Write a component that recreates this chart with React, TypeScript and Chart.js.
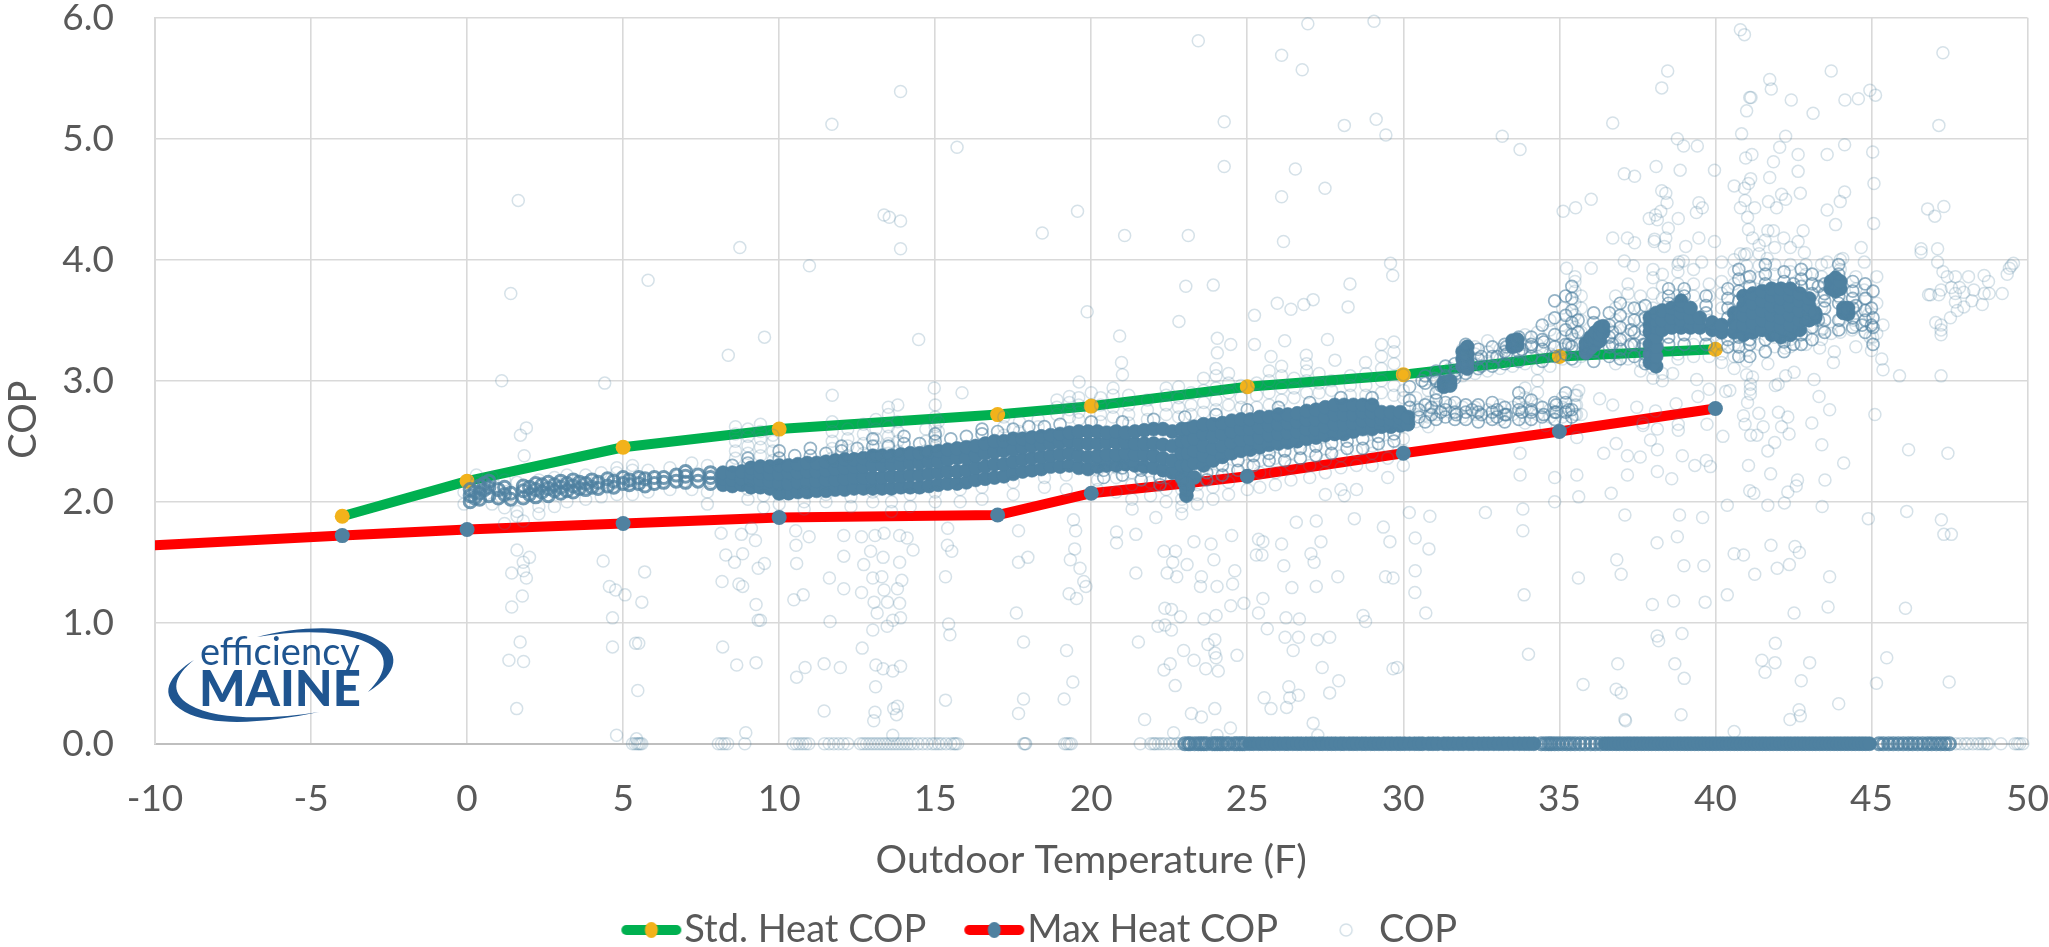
import React, { useEffect, useRef } from "react";
import { Chart, registerables } from "chart.js";

Chart.register(...registerables);

const xTicksMin = -10;
const xTicksMax = 50;
const stdTemps = [-4, 0, 5, 10, 17, 20, 25, 30, 35, 40];
const stdCop = [1.88, 2.17, 2.45, 2.6, 2.72, 2.79, 2.95, 3.05, 3.2, 3.26];
const maxTemps = [-10, -4, 0, 5, 10, 17, 20, 23, 25, 30, 35, 40];
const maxCop = [1.64, 1.72, 1.77, 1.82, 1.87, 1.89, 2.07, 2.15, 2.21, 2.4, 2.58, 2.77];

// each row: temperature, then the COP readings seen at that temperature
const outliersLeft = [
[1.64,4.49],[1.4,3.72],[5.8,3.83],[1.11,3],[4.41,2.98],[1.9,2.61],[1.71,2.55],[1.83,2.38],[1.43,1.41],[1.81,1.43],[1.9,1.37],[1.77,1.22],[1.43,1.13],[1.7,.84],[1.34,.69],[1.81,.68],[1.59,.29],[4.36,1.51],[5.69,1.42],[4.56,1.3],[4.76,1.27],[5.06,1.23],[5.6,1.17],[4.66,1.04],[4.66,.8],[5.4,.83],[5.5,.83],[5.47,.44],[4.79,.07],[5.43,.04],[1.8,1.5],[1.6,1.6],[2,1.54],[1.2,1.82],[1.8,1.84],
[8.74,4.1],[11.69,5.12],[13.89,5.39],[10.97,3.95],[15.7,4.93],[13.36,4.37],[13.53,4.35],[13.89,4.32],[13.89,4.09],[8.37,3.21],[9.53,3.36],[14.47,3.34],[11.7,2.88],[14.97,2.94],[15.86,2.9],
[8.14,1.74],[8.79,1.73],[9.11,1.78],[9.24,1.68],[8.29,1.56],[8.57,1.5],[8.83,1.57],[9.53,1.49],[9.33,1.45],[8.17,1.34],[8.71,1.32],[8.83,1.3],[9.26,1.15],[9.33,1.02],[9.4,1.02],[8.19,.8],[8.64,.65],[9.26,.67],[10.53,1.76],[10.96,1.71],[10.54,1.64],[10.56,1.49],[10.77,1.23],[10.47,1.19],[11.63,1.01],[10.56,.55],[10.83,.63],[11.44,.66],[11.96,.63],[11.44,.27],[12.07,1.72],[12.07,1.55],[11.61,1.37],[12.07,1.28],[12.64,1.71],[12.64,1.25],[12.71,1.48],[12.93,1.59],[13.07,1.72],[13.36,1.74],[13.33,1.54],[13.86,1.5],[13,1.37],[13.29,1.38],[13.93,1.35],[13.36,1.27],[13.79,1.28],[13.04,1.17],[13.47,1.17],[13.86,1.16],[13.14,1.08],[13.89,1.04],[13.64,1.02],[13,.94],[13.46,.97],[12.66,.79],[13.1,.65],[13.33,.62],[13.64,.6],[13.89,.64],[13.09,.47],[13.79,.31],[13.67,.29],[13.76,.24],[13.07,.26],[13.03,.19],[13.64,.07],[8.93,.09],[13.86,1.72],[14.1,1.7],[14.29,1.6],[15.4,1.78],[15.39,1.64],[15.53,1.59],[15.33,1.38],[15.43,.99],[15.47,.9],[15.33,.36],
[17.67,1.76],[17.67,1.5],[17.97,1.54],[17.6,1.08],[17.83,.84],[17.83,.37],[17.67,.25],[19.43,1.85],[19.5,1.76],[19.47,1.61],[19.33,1.52],[19.64,1.45],[19.76,1.34],[19.83,1.3],[19.29,1.24],[19.53,1.2],[19.21,.77],[19.41,.51],[19.13,.37]];
const outliersMiddle = [
[18.43,4.22],[19.56,4.4],[21.07,4.2],[23.11,4.2],[23.43,5.81],[24.26,5.14],[24.26,4.77],[26.1,5.69],[26.76,5.57],[26.94,5.95],[29.06,5.97],[28.11,5.11],[29.13,5.16],[29.44,5.03],[26.54,4.75],[27.49,4.59],[26.1,4.52],[26.16,4.15],[29.59,3.97],[29.66,3.87],[28.29,3.8],[28.23,3.61],[23.03,3.78],[23.91,3.79],[19.87,3.57],[22.81,3.49],[20.91,3.37],[25.96,3.64],[26.4,3.59],[26.81,3.63],[27.11,3.67],[25.23,3.54],[24.04,3.35],[24.47,3.3],[24.04,3.23],[25.23,3.3],[26.2,3.33],[27.57,3.34],[20.97,3.15],[21,3.05],[19.61,2.99],[20,2.9],[27.81,3.17],[25.76,3.2],[26.89,3.21],[28.79,3.15],
[20.81,1.75],[20.81,1.66],[21.43,1.73],[21.31,1.94],[21.43,1.41],[21.51,.84],[21.71,.2],[22.07,1.87],[22.33,1.59],[22.7,1.59],[22.61,1.5],[23.07,1.48],[22.43,1.41],[22.74,1.38],[22.36,1.12],[22.57,1.11],[22.86,1.05],[22.14,.97],[22.36,.98],[22.57,.94],[22.96,.77],[23.29,.69],[22.53,.66],[22.33,.61],[22.69,.48],[23.21,.25],[23.53,.22],[22.64,.09],[23.53,1.38],[23.5,1.3],[24.03,1.3],[24.53,1.32],[24.6,1.43],[23.93,1.52],[23.84,1.65],[23.29,1.67],[24.5,1.72],[23.61,1.03],[24,1.06],[24.47,1.14],[24.89,1.16],[23.96,.86],[23.74,.82],[23.96,.75],[24,.71],[23.67,.62],[24.07,.6],[24.67,.73],[23.96,.29],[24.46,.13],[24.03,.07],[25.36,1.08],[25.64,.95],[25.36,1.69],[25.5,1.67],[25.29,1.56],[25.47,1.56],[26.1,1.65],[26.17,1.47],[26.43,1.29],[25.5,1.2],[27.21,1.84],[27.36,1.67],[27.04,1.57],[27.14,1.5],[27.21,1.3],[27.9,1.38],[26.24,1.04],[26.67,1.03],[26.21,.88],[26.64,.88],[27.24,.86],[27.64,.88],[26.47,.77],[27.4,.63],[27.93,.52],[27.64,.42],[26.33,.47],[26.64,.4],[26.36,.38],[25.54,.38],[25.76,.29],[26.26,.3],[27.11,.17],[27.26,.07],[28.71,1.06],[28.79,1.01],[29.36,1.79],[29.57,1.67],[29.43,1.38],[29.67,1.37],[29.67,.62],[26.57,1.83],[28.11,2.05],[28.43,1.86],[29.8,.63]];
const outliersRight = [
[33.83,1.94],[33.83,1.76],[33.87,1.23],[34.01,.74],[32.63,1.91],[30.85,1.88],[30.38,1.7],[30.82,1.61],[30.38,1.43],[30.37,1.25],[30.72,1.08],[30.19,1.91],[34.85,2],[35.62,2.04],[36.66,2.07],[35.61,1.37],[36.84,1.52],[36.98,1.4],[37.1,1.89],[38.13,1.66],[37.98,1.15],[38.66,1.18],[39.67,1.17],[38.78,1.71],[38.85,1.89],[39.59,1.87],[38.99,1.47],[39.63,1.47],[38.13,.89],[38.18,.85],[38.93,.91],[36.87,.66],[35.76,.49],[36.82,.45],[36.98,.42],[38.7,.66],[39,.54],[37.1,.2],[37.12,.19],[38.9,.24],[40.38,1.97],[41.68,1.97],[42.21,1.99],[43.42,1.96],[44.9,1.86],[40.6,1.57],[40.9,1.56],[41.78,1.64],[42.55,1.63],[42.69,1.58],[41.26,1.4],[41.98,1.45],[42.37,1.48],[43.66,1.38],[40.38,1.23],[43.61,1.13],[42.52,1.08],[41.92,.83],[41.49,.69],[41.91,.67],[43.02,.67],[41.59,.59],[42.75,.52],[43.95,.33],[42.68,.28],[42.72,.23],[42.39,.2],[40.6,.1],[41.1,2.09],[41.23,2.07],[42.32,2.08],[42.59,2.13],[43.51,2.18],[46.13,1.92],[47.24,1.85],[47.32,1.73],[47.56,1.73],[46.09,1.12],[45.49,.71],[45.16,.5],[47.49,.51],
[40.8,5.9],[40.93,5.86],[47.29,5.71],[38.47,5.56],[38.28,5.42],[41.74,5.49],[41.79,5.41],[43.71,5.56],[41.1,5.34],[41.14,5.34],[42.43,5.32],[43.13,5.21],[44.15,5.32],[44.58,5.33],[44.95,5.4],[45.13,5.36],[47.16,5.11],[41,5.23],[36.71,5.13],[33.17,5.02],[33.74,4.91],[40.84,5.04],[42.25,5.02],[38.78,5],[38.98,4.94],[39.42,4.94],[42.06,4.93],[44.14,4.95],[45.04,4.89],[42.65,4.87],[43.58,4.87],[41.17,4.87],[40.97,4.84],[41.86,4.81],[38.1,4.77],[37.08,4.71],[37.41,4.69],[38.87,4.74],[39.97,4.74],[42.65,4.73],[41.74,4.68],[41.13,4.67],[41.06,4.63],[40.6,4.61],[40.93,4.59],[45.08,4.63],[38.28,4.57],[38.41,4.55],[42.12,4.54],[42.72,4.55],[44.14,4.56],[42.25,4.5],[36.02,4.5],[41.7,4.48],[44,4.48],[39.47,4.47],[38.45,4.47],[35.52,4.43],[35.12,4.4],[39.58,4.43],[40.95,4.49],[41.26,4.43],[40.8,4.43],[41.96,4.43],[43.58,4.41],[39.39,4.39],[38.25,4.4],[38.08,4.37],[37.88,4.34],[38.14,4.33],[38.81,4.34],[41.03,4.35],[45.07,4.3],[43.85,4.29],[46.8,4.42],[47.32,4.44],[47.03,4.36],[38.49,4.26],[41.06,4.25],[41.68,4.24],[41.86,4.24],[42.81,4.24],[36.71,4.18],[37.18,4.18],[37.41,4.14],[38.05,4.17],[38.41,4.18],[39.47,4.18],[39.97,4.15],[39.05,4.11],[38.04,4.15],[38.36,4.11],[44.67,4.1],[46.59,4.09],[46.59,4.06],[47.12,4.09],[41.19,4.18],[41.59,4.16],[42.19,4.18],[42.65,4.15],[40.8,4.05],[40.93,4.04],[42.85,4.06],[41.66,4.01],[43.58,3.98],[37.08,3.99],[37.37,3.95],[36.02,3.93],[35.23,3.93],[38.83,3.98],[38.97,3.99],[39.56,3.98],[40.2,3.98],[44.08,4.01],[44.77,3.98],[47.12,3.98],[47.29,3.9],[49.48,3.95],[49.55,3.97],[49.35,3.88],[49.42,3.93],
[47.43,3.86],[47.69,3.86],[47.56,3.77],[47.82,3.77],[47.23,3.75],[46.83,3.71],[46.89,3.71],[47.16,3.71],[48.11,3.86],[48.61,3.87],[48.75,3.82],[48.28,3.75],[48.61,3.72],[48.77,3.72],[49.19,3.72],[47.69,3.72],[47.96,3.73],[47.69,3.65],[48.22,3.66],[48.55,3.63],[47.96,3.61],[47.75,3.58],[47.53,3.52],[47.06,3.48],[47.23,3.46],[47.23,3.42],[47.23,3.38],[45.9,3.04],[47.23,3.04],[46.19,2.43],[47.45,2.4],
[39.8,2.93],[39.4,3.01],[40.33,2.91],[40.46,2.92],[39.44,2.87],[38.63,3.06],[41.19,3.03],[41.12,2.97],[41.12,2.93],[41.12,2.89],[41.03,2.82],[40.9,2.71],[41.39,2.73],[40.95,2.64],[41.53,2.62],[41.33,2.55],[41.13,2.55],[42.25,3.04],[42.52,3.07],[41.92,2.96],[42.01,2.97],[43.16,3.01],[43.32,2.87],[43.66,2.76],[43.09,2.65],[42.02,2.74],[42.32,2.7],[42.12,2.62],[42.36,2.56],[41.9,2.49],[41.68,2.42],[43.41,2.47],[44.11,2.32],[41.06,2.3],[41.77,2.23],[42.63,2.18],[45.11,2.72],[40.24,2.54],[41.68,3.14],[42.23,3.27],[43.34,3.27],[43.81,3.24],[43.78,3.15],[45.33,3.18],[45.37,3.09],[45,3.25],[45.04,3.36],[45.37,3.46],[45.17,3.39],[44.95,3.36],[44.44,3.5],[44.91,3.55],[45.17,3.64],[45.17,3.86],[44.77,3.75],[44.84,3.68],[44.38,3.42],[43.71,3.39],[43.44,3.43],
[36.42,2.4],[36.82,2.48],[37.18,2.38],[37.59,2.37],[38.14,2.43],[38.94,2.38],[37.92,2.51],[38.81,2.59],[38.14,2.6],[37.68,2.63],[39.73,2.64],[38.81,2.64],[36.71,2.8],[36.29,2.85],[37.48,2.78],[35.62,2.92],[35.55,2.88],[35.55,2.8],[35.55,2.72],[38.08,2.75],[38.74,2.81],[39.71,2.34],[39.34,2.3],[39.84,2.29],[33.74,2.4],[33.74,2.22],[34.85,2.2],[35.56,2.22],[37.18,2.22],[38.14,2.25],[38.6,2.19],[33.9,2.65],[34.56,2.63],[35.56,2.53],[37.68,2.65]];

const paleClouds = [
[-.1,1.98,2.08],[.3,2.16,2.22],[.8,2.2,1.98],[1.2,2.18,1.95],[1.6,2.16,1.92,1.88],[2.3,2.18,1.96,1.9],[2.8,2.2,1.96],[3.2,2.22,2],[3.8,2.22,2.02],[4.3,2.24,2.04],[4.8,2.24,2.28,2.06],[5.3,2.26,2.3,2.06],[5.8,2.26,2.08],[6.5,2.28,2.1],[7.2,2.32,2.1],[7.7,2.3,2.08,1.98],
[8.6,2.36,2.42,2.5,2.56,2.62],[9,2.4,2.46,2.54,2.6],[9.4,2.38,2.45,2.52,2.58,2.64],[9.8,2.34,2.42,2.5,2.55],[11.7,2.36,2.44,2.5,2.58,2.66],[12.2,2.38,2.46,2.52,2.6],[12.7,2.4,2.48,2.56,2.64],[13.1,2.38,2.46,2.52,2.6,2.68],[13.5,2.4,2.48,2.54,2.62,2.72,2.78],[13.8,2.42,2.5,2.58,2.66,2.8],[14.7,2.42,2.5,2.6],[15,2.46,2.54,2.62,2.7,2.8],[15.1,2.58,2.66],[17.2,2.55,2.62,2.7],[17.7,2.58,2.66],[18.3,2.62,2.68],[18.9,2.72,2.78,2.84],[19.3,2.7,2.76,2.82,2.87],[19.6,2.68,2.74,2.8,2.86],[20.3,2.66,2.72,2.8,2.86],[20.7,2.7,2.78,2.88,2.94],[21.2,2.65,2.72,2.8,2.88],[21.8,2.68,2.76,2.84],[22.4,2.72,2.8,2.88,2.94],[22.8,2.7,2.78,2.86,2.95],[23.2,2.72,2.8,2.9],[23.6,2.74,2.82,2.92,3.02],[24,2.76,2.84,2.94,3.04,3.1],[24.4,2.8,2.9,2.98,3.06],[24.8,2.78,2.86,2.96],[25.3,2.78,2.88,2.98],[25.7,2.8,2.9,3,3.08],[26.1,2.84,2.94,3.04,3.12],[26.5,2.86,2.94,3.02],[26.9,2.9,3,3.08,3.14],[27.3,2.9,2.98,3.06],[27.7,2.92,3],[28.3,2.88,2.96,3.04],[28.8,2.88,2.96,3.06],[29.3,2.9,3,3.1,3.2,3.3],[29.7,2.88,2.96,3.14,3.24,3.32],[30,2.86,2.92,3.05],
[9,2.02,2.1],[9.5,1.95,2.05],[10,1.98,2.06],[10.8,1.94,2,2.08],[11.5,2,2.06],[12.3,1.96,2.04],[13,2,2.08],[13.6,1.92,2],[14.2,1.96,2.06],[15,2,2.08],[15.8,2,2.1],[16.5,2.02,2.12],[17.5,2.06,2.16],[18.5,2.12,2.2],[19.2,2.1,2.22],[20.2,2.1,2.18,2.26],[20.8,2.08,2.2,2.28],[21.3,2.02,2.14,2.24],[21.9,2.05,2.16],[22.4,2,2.1,2.2],[22.9,1.9,1.96,2.02,2.1,2.18],[23.4,1.98,2.06,2.14],[23.9,2.02,2.12,2.22],[24.4,2.06,2.16,2.26],[25,2.1,2.2,2.3],[25.4,2.12,2.24,2.34],[25.9,2.14,2.24,2.36],[26.4,2.18,2.3,2.4],[27,2.2,2.3,2.42],[27.5,2.06,2.24,2.34,2.44],[28,2.1,2.28,2.38],[28.5,2.1,2.3,2.42],[29,2.3,2.4,2.46],[29.5,2.2,2.36,2.46],[30,2.3,2.42,2.52],
[30.4,2.66,2.72,2.78,2.86],[30.8,2.62,2.7,2.76,2.82,2.92],[31.1,2.72,2.78,2.94,3,3.06],[31.5,2.74,2.8,2.96,3.02,3.1],[31.9,2.7,2.78,3.04,3.12,3.2,3.26],[32.3,2.72,2.78,3.06,3.14,3.22,3.28],[32.7,2.7,2.76,3.08,3.16,3.24,3.33],[33.1,2.68,2.74,2.8,3.1,3.18,3.26],[33.5,2.72,2.78,3.12,3.2,3.28,3.34],[33.9,2.7,2.78,2.86,2.94,3.14,3.22,3.3,3.38],[34.3,2.72,2.8,2.9,3,3.1,3.2,3.3,3.4],[34.7,2.7,2.76,3.12,3.22,3.3,3.42,3.5],[35.1,2.7,2.78,2.86,3.18,3.26,3.36,3.46,3.6],[35.5,2.72,2.8,2.88,3.16,3.24,3.34,3.44,3.54,3.64,3.74,3.82,3.86],[35.7,2.72,3.2,3.3,3.4,3.5,3.6,3.7],
[36.8,3.14,3.22,3.3,3.4,3.5,3.6,3.7],[37.2,3.18,3.28,3.38,3.48,3.6,3.72,3.8],[37.6,3.08,3.16,3.26,3.36,3.5,3.6,3.7],[38,3.02,3.1,3.6,3.72,3.85,3.92],[38.3,3,3.06,3.68,3.78,3.88],[38.8,3.18,3.22,3.7,3.8,3.9,3.96],[39.3,3.2,3.3,3.7,3.8,3.92],[39.8,3.2,3.3,3.5,3.7,3.8],[40.2,3.15,3.22,3.3,3.6,3.72,3.82],[40.6,3.1,3.2,3.3,3.8,3.9,4],[41,3.05,3.16,3.25,3.85,3.95,4.05],[41.4,3.3,3.85,3.95,4.05,4.12],[41.9,3.28,3.36,3.88,3.96,4.1],[42.4,3.28,3.34,3.9,3.96,4.1],[42.9,3.3,3.38,3.5,3.88,3.96],[43.4,3.34,3.42,3.6,3.7,3.86,3.96],[44,3.4,3.5,3.68,3.92,4],[44.5,3.28,3.46,3.56,3.76,3.86]];

// medium-toned rings: the streaks above 30 F and the edges of the band
const ringedCloud = [
[30.5,2.7,2.76],[30.9,2.72,2.78],[31.2,2.74,2.96],[31.7,2.72,3.06],[32.2,2.76,3.14],[32.5,2.72,3.12,3.2],[33,2.7,2.76,3.2],[33.3,2.72,3.22,3.28],[33.8,2.74,3.26],[34.1,2.74,3.3],[34.5,2.72,3.32],[34.9,2.74,2.8],[35.3,2.76,3.3],[35.6,3.4,3.5],
[30.6,3.0],[31,3.02],[36.7,3.3,3.4],[37.3,3.3,3.42],[37.7,3.3],[42.5,3.8,3.3],[43.3,3.5,3.78],[44.5,3.62],[44.7,3.46],[45,3.46,3.6]];
const ringedBandEdges = [
[8.5,2.3],[9,2.32,2.36],[10,2.36,2.42],[10.5,2.38],[11,2.38,2.44],[11.5,2.4],[12,2.42,2.46],[12.5,2.44],[13,2.46,2.52],[13.5,2.46],[14,2.48,2.54],[14.5,2.48],[15,2.5,2.56],[15.5,2.52],[16,2.54],[16.5,2.56,2.6],[17,2.58],[17.5,2.6],[18,2.62],[18.5,2.62],[19,2.64],[20,2.66],[21,2.66],[22,2.68],[23,2.7],[24,2.72],[25,2.76],[26,2.78],[27,2.82],[28,2.86],[29,2.86],
[20.4,2.2,2.26],[21,2.22,2.28],[21.6,2.18,2.26],[22.2,2.14,2.2],[23.7,2.18,2.24],[24.2,2.22,2.3],[24.7,2.26,2.34],[25.2,2.3,2.38],[25.7,2.34,2.4],[26.2,2.34,2.42],[26.7,2.36,2.44],[27.2,2.38,2.46],[27.7,2.4,2.48],[28.2,2.44,2.5],[28.7,2.44,2.52],[29.2,2.48,2.54],[29.7,2.5,2.56]];
const ringedCloudRight = [
[30.2,2.78,2.84,2.95],[30.7,2.66,2.8,2.98,3.04],[31.05,2.68,2.84,2.9,3,3.08],[31.35,2.7,2.76,2.82,3.04,3.12],[31.65,2.68,2.74,2.82,3.02,3.08,3.14],[32,2.68,2.74,2.8,3.06,3.3],[32.4,2.66,2.74,2.8,3.1,3.18,3.26],[32.85,2.68,2.74,2.82,3.12,3.2,3.28],[33.25,2.66,2.72,2.78,3.14,3.24,3.3],[33.7,2.68,2.76,2.82,2.9,3.16,3.24,3.36],[34.1,2.68,2.76,2.84,3.2,3.28,3.36],[34.45,2.7,2.78,3.16,3.26,3.34,3.46],[34.85,2.68,2.74,2.82,3.2,3.28,3.38,3.52,3.66],[35.2,2.66,2.74,2.82,2.9,3.22,3.3,3.42,3.54,3.7],[35.4,2.7,2.76,3.18,3.28,3.38,3.48,3.58,3.68,3.78],[36.1,3.16,3.24,3.48,3.56],[36.6,3.2,3.28,3.36,3.46,3.56],[36.95,3.18,3.26,3.34,3.44,3.54,3.64],[37.4,3.2,3.3,3.4,3.5,3.6],[37.75,3.14,3.22,3.3,3.42,3.52,3.62],[38.5,3.3,3.36,3.64,3.7,3.76],[39,3.3,3.38,3.7,3.76],[39.7,3.3,3.38,3.56,3.62,3.7],[40.4,3.28,3.34,3.52,3.6,3.68,3.76],[40.75,3.2,3.28,3.36,3.66,3.74,3.84,3.92],[41.1,3.2,3.3,3.34,3.78,3.86],[41.6,3.24,3.34,3.8,3.88,3.96],[42.2,3.24,3.32,3.82,3.9],[42.75,3.3,3.38,3.78,3.84,3.92],[43.1,3.34,3.44,3.72,3.8,3.88],[43.5,3.4,3.5,3.6,3.66,3.72,3.8],[43.95,3.42,3.5,3.64,3.7,3.88,3.96],[44.4,3.44,3.52,3.6,3.68,3.74,3.82],[44.8,3.4,3.5,3.58,3.68,3.8],[45.05,3.3,3.44,3.52,3.74]];

// heavy rings: the tail of the band below 8 F and the textured stretches along COP 0
const heavyBandTail = [
[.1,2,2.05,2.1],[.4,2.02,2.07,2.13],[.7,2.05,2.12,2.17],[1,2.03,2.1],[1.4,2.02,2.07],[1.8,2.03,2.09,2.13],[2.2,2.04,2.1,2.15],[2.6,2.05,2.11,2.16],[3,2.07,2.12,2.17],[3.4,2.08,2.13,2.18],[3.8,2.1,2.15],[4.2,2.11,2.16],[4.7,2.12,2.17],[5.2,2.14,2.18],[5.7,2.13,2.19],[6.3,2.16,2.2],[7,2.16,2.21,2.25],[7.4,2.17,2.22],[7.8,2.15,2.2,2.24],
[.25,2.03,2.08],[.55,2.1,2.15],[1.2,2.06,2.12],[2,2.06,2.12],[2.4,2.08,2.14],[2.8,2.09,2.14],[3.2,2.09,2.15],[3.6,2.11,2.16],[4,2.12,2.18],[4.5,2.13,2.19],[5,2.15,2.2],[5.5,2.15,2.2],[6,2.15,2.2],[6.7,2.17,2.22]];
const zeroCopRinged = [23,23.11,23.17,23.31,23.43,23.52,23.61,23.7,23.88,23.96,24.04,24.13,24.2,24.33,24.41,24.58,24.66,24.76,24.84,24.91,34.42,34.55,34.66,34.74,34.85,34.97,35.1,35.24,35.36,35.5,35.66,35.82,36,36.15,36.32,45.24,45.38,45.55,45.7,45.86,46.02,46.18,46.32,46.48,46.64,46.8,46.93,47.08,47.22,47.36,47.5];

const denseBand = [
[8.2,2.14,2.19,2.24],[8.5,2.13,2.18,2.24],[8.8,2.14,2.19,2.25],[9.1,2.12,2.18,2.24,2.28],[9.4,2.12,2.18,2.24,2.29],[9.7,2.11,2.17,2.23,2.29],[10,2.07,2.15,2.23,2.3],[10.3,2.07,2.15,2.24,2.3],[10.6,2.08,2.16,2.24,2.31],[10.9,2.08,2.16,2.25,2.32],[11.2,2.09,2.17,2.25,2.32],[11.5,2.09,2.18,2.26,2.33],[11.8,2.1,2.18,2.27,2.34],[12.1,2.1,2.19,2.28,2.35],[12.4,2.11,2.2,2.29,2.35],[12.7,2.11,2.2,2.29,2.36],[13,2.11,2.2,2.3,2.38],[13.3,2.11,2.2,2.3,2.38],[13.6,2.11,2.21,2.31,2.38],[13.9,2.12,2.21,2.31,2.39],[14.2,2.12,2.22,2.32,2.4],[14.5,2.12,2.22,2.32,2.4],[14.8,2.13,2.23,2.33,2.41],[15.1,2.14,2.24,2.33,2.42],[15.4,2.15,2.25,2.35,2.43],[15.7,2.15,2.25,2.36,2.44],[16,2.16,2.26,2.36,2.45],[16.3,2.18,2.28,2.38,2.46],[16.6,2.19,2.29,2.4,2.48],[16.9,2.2,2.31,2.41,2.5],[17.2,2.21,2.31,2.42,2.5],[17.5,2.23,2.33,2.43,2.52],[17.8,2.25,2.35,2.45,2.52],[18.1,2.26,2.36,2.46,2.53],[18.4,2.27,2.37,2.47,2.54],[18.7,2.29,2.38,2.48,2.55],[19,2.29,2.39,2.49,2.56],[19.3,2.3,2.4,2.5,2.57],[19.6,2.28,2.38,2.48,2.58],[19.9,2.27,2.37,2.48,2.58],[20.2,2.29,2.38,2.48,2.58],[20.5,2.3,2.39,2.49,2.57],[20.8,2.3,2.39,2.49,2.58],[21.1,2.31,2.4,2.49,2.57],[21.4,2.3,2.39,2.48,2.58],[21.7,2.29,2.39,2.48,2.59],[22,2.28,2.38,2.48,2.6],[22.3,2.26,2.36,2.47,2.6],[22.6,2.24,2.34,2.46,2.58],[22.9,2.2,2.3,2.4,2.5,2.6],[23.1,2.12,2.2,2.3,2.4,2.5,2.6],[23.3,2.2,2.32,2.42,2.52,2.62],[23.6,2.3,2.38,2.46,2.56,2.64],[23.9,2.34,2.44,2.54,2.64],[24.2,2.37,2.46,2.56,2.65],[24.5,2.4,2.49,2.58,2.67],[24.8,2.42,2.51,2.6,2.68],[25.1,2.43,2.52,2.6,2.68],[25.4,2.45,2.53,2.61,2.7],[25.7,2.47,2.55,2.63,2.7],[26,2.48,2.56,2.64,2.72],[26.3,2.49,2.57,2.65,2.72],[26.6,2.5,2.58,2.66,2.73],[26.9,2.52,2.6,2.68,2.75],[27.2,2.53,2.6,2.68,2.76],[27.5,2.55,2.62,2.7,2.78],[27.8,2.56,2.64,2.72,2.8],[28.1,2.56,2.64,2.72,2.8],[28.4,2.58,2.65,2.72,2.8],[28.7,2.6,2.67,2.74,2.8],[29,2.6,2.67,2.74,2.8],[29.3,2.62,2.68,2.74],[29.6,2.62,2.68,2.74],[29.9,2.63,2.69,2.74],[30.15,2.64,2.7]];
const denseClusters = [
[31.3,2.95,2.99],[31.5,2.96,3],[31.9,3.12,3.18,3.24],[32.05,3.1,3.16,3.22,3.28],[33.5,3.28,3.33],[33.65,3.29,3.34],[35.85,3.23,3.27,3.31],[36,3.27,3.31,3.36],[36.15,3.3,3.35,3.4],[36.3,3.33,3.38,3.44],[36.4,3.4,3.45],[37.9,3.15,3.22,3.3,3.4,3.46,3.52],[38.1,3.12,3.2,3.28,3.36,3.44,3.5,3.56],[38.3,3.42,3.5,3.58],[38.6,3.44,3.52,3.6],[38.9,3.44,3.5,3.56,3.62,3.66],[39.2,3.44,3.52,3.6],[39.5,3.44,3.52],[39.9,3.42,3.48],[40.2,3.4,3.46],[40.6,3.4,3.48,3.56],[40.9,3.38,3.46,3.54,3.62,3.7],[41.2,3.4,3.48,3.56,3.64,3.72],[41.5,3.42,3.5,3.58,3.66,3.74],[41.8,3.38,3.46,3.54,3.62,3.7,3.76],[42.1,3.36,3.44,3.52,3.6,3.68,3.76],[42.4,3.38,3.46,3.54,3.62,3.7,3.76],[42.7,3.42,3.5,3.58,3.66,3.72],[43,3.5,3.56,3.62,3.68],[43.2,3.52,3.56],[43.7,3.76,3.82],[43.85,3.74,3.8,3.85],[44,3.76,3.82],[44.1,3.56,3.6],[44.25,3.55,3.6],[23.05,2.05,2.1,2.15]];

const zeroCopPale = [5.3,5.38,5.45,5.5,5.55,5.6,8.05,8.15,8.25,8.35,8.9,10.45,10.55,10.65,10.75,10.85,10.95,11.45,11.6,11.75,11.9,12.05,12.2,12.6,12.7,12.8,12.9,13,13.1,13.2,13.3,13.4,13.5,13.6,13.7,13.8,13.9,14,14.1,14.2,14.3,14.45,14.6,14.75,14.9,15,15.1,15.2,15.35,15.5,15.6,15.65,15.72,17.84,17.88,17.9,19.15,19.22,19.3,19.36,21.57,21.9,22,22.05,22.15,22.25,22.35,22.5,22.6,22.75,22.85,47.7,47.85,48,48.1,48.25,48.4,48.5,48.6,48.7,48.75,49.15,49.6,49.68,49.75,49.85];
const zeroCopSolid = [25.07,25.2,25.36,25.49,25.63,25.78,25.9,26.04,26.19,26.31,26.46,26.6,26.73,26.88,27.02,27.15,27.3,27.42,27.57,27.7,27.83,27.98,28.1,28.26,28.39,28.52,28.67,28.8,28.95,29.08,29.22,29.35,29.5,29.63,29.78,29.9,30.04,30.2,30.36,30.5,30.62,30.81,30.95,31.1,31.3,31.44,31.6,31.77,31.92,32.1,32.24,32.42,32.58,32.73,32.9,33.06,33.21,33.37,33.55,33.72,33.88,34.03,34.18,36.46,36.58,36.7,36.82,36.93,37.05,37.16,37.27,37.39,37.5,37.62,37.73,37.85,37.96,38.08,38.19,38.31,38.42,38.53,38.65,38.77,38.88,39,39.11,39.22,39.34,39.45,39.57,39.68,39.8,39.91,40.02,40.14,40.25,40.37,40.48,40.6,40.71,40.82,40.94,41.05,41.17,41.28,41.4,41.51,41.62,41.74,41.85,41.97,42.08,42.2,42.31,42.42,42.54,42.65,42.77,42.88,43,43.11,43.22,43.34,43.45,43.57,43.68,43.8,43.91,44.02,44.14,44.25,44.37,44.48,44.6,44.71,44.82,44.94];

const THEME = {
  green: "#00B050", orange: "#F2B21B", red: "#FF0000", blue: "#4F81A0",
  pale: "rgba(79,129,160,0.24)", mid: "rgba(79,129,160,0.6)", heavy: "rgba(79,129,160,0.8)", dense: "#4F81A0",
  grid: "#D9D9D9", text: "#595959", logo: "#1F5590", font: "Lato",
};

const toPoints = (rows: number[][]) =>
  rows.flatMap(([t, ...cops]) => cops.map((y) => ({ x: t, y })));
const pair = (xs: number[], ys: number[]) => xs.map((x, i) => ({ x, y: ys[i] }));
const onZero = (xs: number[]) => xs.map((x) => ({ x, y: 0 }));

function legendSwatch(line: string, dot: string) {
  const c = document.createElement("canvas");
  c.width = 62; c.height = 18;
  const g = c.getContext("2d")!;
  g.strokeStyle = line; g.lineWidth = 10; g.lineCap = "round";
  g.beginPath(); g.moveTo(6, 9); g.lineTo(56, 9); g.stroke();
  g.fillStyle = dot; g.beginPath(); g.ellipse(31, 9, 6.5, 8, 0, 0, Math.PI * 2); g.fill();
  return c;
}
function legendRing() {
  const c = document.createElement("canvas");
  c.width = 18; c.height = 18;
  const g = c.getContext("2d")!;
  g.strokeStyle = THEME.pale; g.lineWidth = 1.5;
  g.beginPath(); g.arc(9, 9, 6, 0, Math.PI * 2); g.stroke();
  return c;
}

const placeLegend = {
  id: "placeLegend",
  afterLayout(chart: any) {
    const l = chart.legend;
    const dx = 33.5, dy = 12;
    l.left += dx; l.right += dx; l.top += dy; l.bottom += dy;
  },
};

const logo = {
  id: "logo",
  afterDatasetsDraw(chart: any) {
    const g = chart.ctx;
    g.save();
    g.fillStyle = THEME.logo;
    g.beginPath();
    g.moveTo(257, 637);
    g.bezierCurveTo(300, 626, 350, 624, 378, 640);
    g.bezierCurveTo(400, 652, 400, 672, 368, 692);
    g.bezierCurveTo(388, 672, 390, 654, 368, 643);
    g.bezierCurveTo(340, 630, 300, 630, 257, 637);
    g.fill();
    g.beginPath();
    g.moveTo(194, 660);
    g.bezierCurveTo(170, 675, 155, 695, 185, 712);
    g.bezierCurveTo(215, 728, 270, 722, 319, 712);
    g.bezierCurveTo(270, 720, 215, 720, 190, 705);
    g.bezierCurveTo(168, 692, 175, 675, 194, 660);
    g.fill();
    g.textAlign = "left"; g.textBaseline = "alphabetic";
    g.font = `400 38px ${THEME.font}`;
    g.fillText("efficiency", 200, 665);
    g.font = `900 49px ${THEME.font}`;
    g.fillText("MAINE", 199, 706);
    g.restore();
  },
};

export default function App() {
  const ref = useRef<HTMLCanvasElement>(null);
  useEffect(() => {
    const ringStyle = { showLine: false, pointStyle: "circle", pointRadius: 6, pointBorderWidth: 1.5, pointBackgroundColor: "rgba(0,0,0,0)", clip: false };
    const chart = new Chart(ref.current!, {
      type: "scatter",
      plugins: [placeLegend, logo],
      data: {
        datasets: [
          { label: "Std. Heat COP", data: pair(stdTemps, stdCop), showLine: true, order: 5, borderColor: THEME.green, backgroundColor: THEME.green, borderWidth: 10, borderCapStyle: "round", borderJoinStyle: "round", pointRadius: 7.5, pointBorderWidth: 0, pointBackgroundColor: THEME.orange },
          { label: "Max Heat COP", data: pair(maxTemps, maxCop), showLine: true, order: 6, borderColor: THEME.red, backgroundColor: THEME.red, borderWidth: 10, borderCapStyle: "round", borderJoinStyle: "round", pointRadius: (c: any) => (c.dataIndex === 0 ? 0 : 7.5), pointBorderWidth: 0, pointBackgroundColor: THEME.blue },
          { label: "COP", data: [...toPoints(outliersLeft), ...toPoints(outliersMiddle), ...toPoints(outliersRight), ...toPoints(paleClouds), ...onZero(zeroCopPale)], order: 0, ...ringStyle, borderColor: THEME.pale, pointBorderColor: THEME.pale },
          { label: "COP ringed", data: [...toPoints(ringedCloud), ...toPoints(ringedBandEdges), ...toPoints(ringedCloudRight)], order: 1, ...ringStyle, pointBorderWidth: 1.7, borderColor: THEME.mid, pointBorderColor: THEME.mid },
          { label: "COP heavy", data: [...toPoints(heavyBandTail), ...onZero(zeroCopRinged)], order: 2, ...ringStyle, pointBorderWidth: 3, borderColor: THEME.heavy, pointBorderColor: THEME.heavy },
          { label: "COP band", data: [...toPoints(denseBand), ...toPoints(denseClusters), ...onZero(zeroCopSolid)], order: 3, ...ringStyle, pointRadius: 7, pointBackgroundColor: THEME.dense, pointBorderWidth: 1, borderColor: THEME.mid, pointBorderColor: THEME.mid },
        ],
      } as any,
      options: {
        animation: false,
        responsive: false,
        devicePixelRatio: 1,
        layout: { padding: { left: 0, right: 21.5, top: 17.7, bottom: 0 } },
        plugins: {
          tooltip: { enabled: false },
          legend: {
            position: "bottom",
            labels: {
              usePointStyle: true,
              pointStyleWidth: 28,
              padding: 54,
              color: THEME.text,
              font: { family: THEME.font, size: 38 },
              generateLabels: (chart: any) =>
                [legendSwatch(THEME.green, THEME.orange), legendSwatch(THEME.red, THEME.blue), legendRing()].map((style, i) => ({
                  text: chart.data.datasets[i].label, datasetIndex: i, pointStyle: style, fontColor: THEME.text, lineWidth: 0, hidden: false,
                })),
            },
          },
        },
        scales: {
          x: {
            type: "linear", min: xTicksMin, max: xTicksMax,
            grid: { color: THEME.grid, lineWidth: 1.6, drawTicks: false },
            border: { color: "#BFBFBF", width: 2 },
            ticks: { stepSize: 5, padding: 33, color: THEME.text, font: { family: THEME.font, size: 37 }, maxRotation: 0, autoSkip: false },
            title: { display: true, text: "Outdoor Temperature (F)", color: THEME.text, font: { family: THEME.font, size: 39.5 }, padding: { top: 0, bottom: -39 } },
            afterFit(s: any) {
              s.height = 203.3 - (s.chart.legend?.height ?? 0);
              s.paddingLeft = 0; s.paddingRight = 0;
            },
          },
          y: {
            min: 0, max: 6,
            grid: { color: THEME.grid, lineWidth: 1.6, drawTicks: false },
            border: { color: THEME.grid, width: 2 },
            ticks: { stepSize: 1, padding: 41, color: THEME.text, font: { family: THEME.font, size: 37 }, callback: (v: any) => Number(v).toFixed(1) },
            title: { display: true, text: "COP        ", color: THEME.text, font: { family: THEME.font, size: 38 }, padding: { top: 1, bottom: 0 } },
            afterFit(s: any) {
              s.width = 155;
              s.paddingTop = 0; s.paddingBottom = 0;
            },
          },
        },
      } as any,
    });
    return () => chart.destroy();
  }, []);
  return (
    <div style={{ position: "absolute", left: 0, top: 0, width: 2049, height: 947, background: "#fff" }}>
      <canvas ref={ref} width={2049} height={947} style={{ display: "block" }} />
    </div>
  );
}
